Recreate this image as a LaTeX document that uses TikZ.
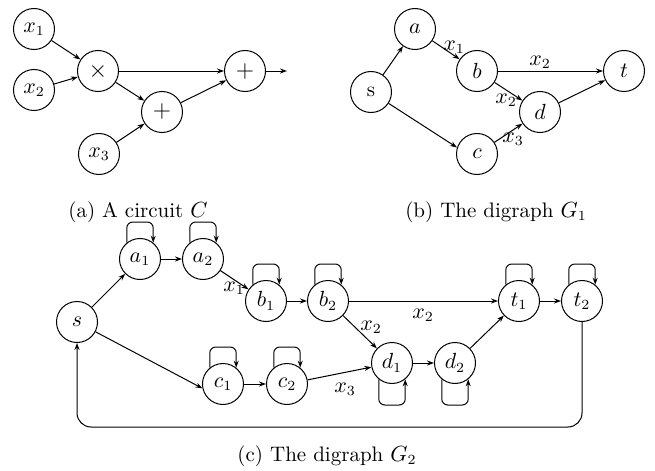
\documentclass[tikz,border=0pt]{standalone}
\usetikzlibrary{arrows.meta}
\newcommand\looptop[1]{\draw[arr, rounded corners=3pt] (#1.129) |- ([yshift=8pt]#1.north) -| (#1.51);}
\newcommand\loopbot[1]{\draw[arr, rounded corners=3pt] (#1.231) |- ([yshift=-10.5pt]#1.south) -| (#1.309);}
\begin{document}
\begin{tikzpicture}[x=0.5pt,y=-0.5pt, font=\fontsize{10.5}{12.5}\selectfont,
  vtx/.style={draw, circle, minimum size=20.5pt, inner sep=0pt, line width=0.5pt},
  arr/.style={-{Stealth[length=3.5pt,width=2.5pt]}, line width=0.5pt},
  lbl/.style={inner sep=0pt}]
\useasboundingbox (0,0) rectangle (655,471);
% (a) circuit
\node[vtx] (x1) at (34,29) {$x_1$};
\node[vtx] (x2) at (34,90) {$x_2$};
\node[vtx] (mul) at (98,71) {\large$\times$};
\node[vtx] (p1) at (162,112) {\large$+$};
\node[vtx] (x3) at (99,154) {$x_3$};
\node[vtx] (p2) at (245,71) {\large$+$};
\coordinate (out) at (287,71);
\draw[arr] (x1) -- (mul);
\draw[arr] (x2) -- (mul);
\draw[arr] (mul) -- (p2);
\draw[arr] (mul) -- (p1);
\draw[arr] (x3) -- (p1);
\draw[arr] (p1) -- (p2);
\draw[arr] (p2) -- (out);
\node (capa) at (138,212) {(a) A circuit $C$};
% (b) digraph G1
\node[vtx] (a) at (415,29) {$a$};
\node[vtx] (s) at (371,92) {s};
\node[vtx] (b) at (477,71) {$b$};
\node[vtx] (t) at (624,71) {$t$};
\node[vtx] (d) at (540,112) {$d$};
\node[vtx] (c) at (477,154) {$c$};
\draw[arr] (s) -- (a);
\draw[arr] (a) -- (b);
\draw[arr] (b) -- (t);
\draw[arr] (b) -- (d);
\draw[arr] (s) -- (c.162);
\draw[arr] (c) -- (d);
\draw[arr] (d) -- (t);
\node[lbl] (lb1) at (454,47) {$x_1$};
\node[lbl] (lb2) at (540,62) {$x_2$};
\node[lbl] (lb3) at (506,100) {$x_2$};
\node[lbl] (lb4) at (513,139) {$x_3$};
\node (capb) at (496,212) {(b) The digraph $G_1$};
% (c) digraph G2
\node[vtx] (a1) at (140,259) {$a_1$};
\node[vtx] (a2) at (203,259) {$a_2$};
\node[vtx] (b1) at (266,301) {$b_1$};
\node[vtx] (b2) at (328,301) {$b_2$};
\node[vtx] (s2) at (77,322) {$s$};
\node[vtx] (c1) at (223,384) {$c_1$};
\node[vtx] (c2) at (287,384) {$c_2$};
\node[vtx] (t1) at (519,301) {$t_1$};
\node[vtx] (t2) at (582,301) {$t_2$};
\node[vtx] (d1) at (392,363) {$d_1$};
\node[vtx] (d2) at (455,363) {$d_2$};
\coordinate (bot) at (0,427);
\draw[arr] (s2) -- (a1);
\draw[arr] (a1) -- (a2);
\draw[arr] (a2) -- (b1);
\draw[arr] (b1) -- (b2);
\draw[arr] (b2) -- (t1);
\draw[arr] (b2) -- (d1);
\draw[arr] (s2) -- (c1.192);
\draw[arr] (c1) -- (c2);
\draw[arr] (c2) -- (d1);
\draw[arr] (d1) -- (d2);
\draw[arr] (d2) -- (t1);
\draw[arr] (t1) -- (t2);
\draw[arr, rounded corners=7pt] (t2.south) -- (t2.south |- bot) -| (s2.south);
\looptop{a1}\looptop{a2}\looptop{b1}\looptop{b2}
\looptop{c1}\looptop{c2}\looptop{t1}\looptop{t2}
\loopbot{d1}\loopbot{d2}
\node[lbl] (lc1) at (234,288) {$x_1$};
\node[lbl] (lc2) at (423,315) {$x_2$};
\node[lbl] (lc3) at (371,327) {$x_2$};
\node[lbl] (lc4) at (345,389) {$x_3$};
\node (capc) at (327,456) {(c) The digraph $G_2$};
\end{tikzpicture}
\end{document}
